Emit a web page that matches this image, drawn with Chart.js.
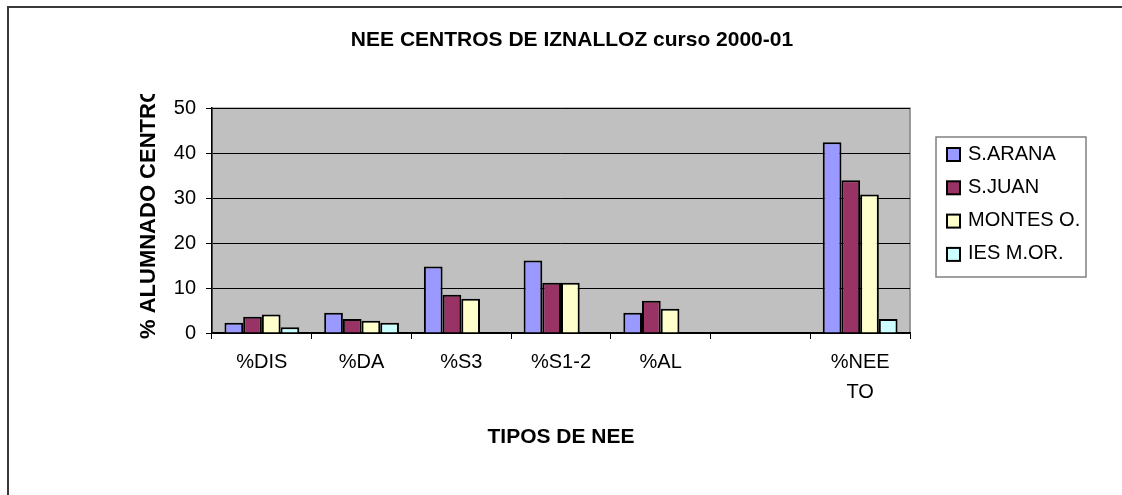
<!DOCTYPE html>
<html>
<head>
<meta charset="utf-8">
<script src="https://cdn.jsdelivr.net/npm/chart.js@4.4.0/dist/chart.umd.min.js"></script>
<style>
  html, body { margin: 0; padding: 0; background: #fff; overflow: hidden; }
  #wrap { width: 1122px; height: 495px; }
</style>
</head>
<body>
<div id="wrap"><canvas id="grafico" width="1122" height="495"></canvas></div>
<script>
// datos
var categorias = ["%DIS", "%DA", "%S3", "%S1-2", "%AL", "", ["%NEE", "TO"]];
var sArana   = [2.3, 4.5, 14.8, 16.1, 4.5, null, 42.4];
var sJuan    = [3.6, 3.1, 8.5, 11.2, 7.2, null, 34.0];
var montesO  = [4.1, 2.7, 7.6, 11.2, 5.4, null, 30.8];
var iesMor   = [1.3, 2.3, null, null, null, null, 3.1];
var marcasY  = [0, 10, 20, 30, 40, 50];

var fuente = "'Liberation Sans', Arial, sans-serif";

// fondo gris, marco exterior, titulo del eje Y y leyenda
var extras = {
    id: 'extras',
    beforeDraw: function (chart) {
        var ctx = chart.ctx, a = chart.chartArea;
        ctx.save();
        ctx.fillStyle = '#fff';
        ctx.fillRect(0, 0, chart.width, chart.height);
        ctx.strokeStyle = '#3a3a3a';
        ctx.lineWidth = 2;
        ctx.strokeRect(8, 7, 3000, 3000);
        ctx.fillStyle = '#c0c0c0';
        ctx.fillRect(a.left, a.top, a.right - a.left, a.bottom - a.top);
        ctx.strokeStyle = '#808080';
        ctx.lineWidth = 1.5;
        ctx.strokeRect(a.left, a.top, a.right - a.left, a.bottom - a.top);
        ctx.restore();
    },
    afterDraw: function (chart) {
        var ctx = chart.ctx, a = chart.chartArea;
        // titulo eje Y (recortado como en el original)
        ctx.save();
        ctx.beginPath();
        ctx.rect(0, 94, 210, 400);
        ctx.clip();
        ctx.translate(149, 339);
        ctx.rotate(-Math.PI / 2);
        ctx.font = "bold 22px " + fuente;
        ctx.fillStyle = '#000';
        ctx.textAlign = 'left';
        ctx.textBaseline = 'middle';
        ctx.fillText('% ALUMNADO CENTRO', 0, 0);
        ctx.restore();

        // leyenda
        var lx = a.right + 26, ly = 137, lw = 150, lh = 140;
        ctx.save();
        ctx.fillStyle = '#fff';
        ctx.fillRect(lx, ly, lw, lh);
        ctx.strokeStyle = '#808080';
        ctx.lineWidth = 1.5;
        ctx.strokeRect(lx, ly, lw, lh);
        ctx.font = "20px " + fuente;
        ctx.textBaseline = 'middle';
        chart.data.datasets.forEach(function (ds, i) {
            var cy = 154 + i * 33.3;
            ctx.fillStyle = ds.backgroundColor;
            ctx.fillRect(lx + 11, cy - 6, 13, 13);
            ctx.strokeStyle = '#000';
            ctx.lineWidth = 2;
            ctx.strokeRect(lx + 11, cy - 6, 13, 13);
            ctx.fillStyle = '#000';
            ctx.fillText(ds.label, lx + 32, cy);
        });
        ctx.restore();
    }
};

var datosBarras = {
    labels: categorias,
    datasets: [
        { label: "S.ARANA", data: sArana, backgroundColor: "#9999ff" },
        { label: "S.JUAN", data: sJuan, backgroundColor: "#993366" },
        { label: "MONTES O.", data: montesO, backgroundColor: "#ffffcc" },
        { label: "IES M.OR.", data: iesMor, backgroundColor: "#ccffff" }
    ]
};
datosBarras.datasets.forEach(function (ds) {
    ds.borderColor = "#000";
    ds.borderWidth = 2;
    ds.categoryPercentage = 0.75;
    ds.barPercentage = 1.0;
});

var opciones = {
    responsive: false,
    animation: false,
    layout: { padding: { top: 10, right: 0, bottom: 40, left: 22 } },
    plugins: {
        legend: { display: false },
        tooltip: { enabled: false },
        title: {
            display: true,
            text: "NEE CENTROS DE IZNALLOZ curso 2000-01",
            color: "#000",
            font: { family: fuente, size: 21, weight: 'bold', lineHeight: 1.2 },
            padding: { top: 18, bottom: 55 }
        }
    },
    scales: {
        x: {
            grid: { offset: true, drawOnChartArea: false, drawTicks: true, tickLength: 6, color: '#000' },
            border: { color: '#000', width: 1.5 },
            ticks: {
                color: '#000', maxRotation: 0, autoSkip: false, padding: 8,
                font: { family: fuente, size: 20, lineHeight: 1.5 }
            },
            title: {
                display: true, text: "TIPOS DE NEE", color: '#000',
                font: { family: fuente, size: 21, weight: 'bold', lineHeight: 1.2 },
                padding: { top: 0, bottom: 5 }
            },
            afterFit: function (scale) { scale.height = 122; }
        },
        y: {
            min: 0, max: 50,
            afterBuildTicks: function (scale) {
                scale.ticks = marcasY.map(function (v) { return { value: v }; });
            },
            grid: { color: '#000', lineWidth: 1, tickLength: 6, drawTicks: true },
            border: { color: '#000', width: 1.5 },
            ticks: {
                color: '#000', padding: 10,
                font: { family: fuente, size: 20 }
            },
            afterFit: function (scale) { scale.width = 190; }
        },
        // espacio reservado para la leyenda
        hueco: {
            type: 'linear', position: 'right', min: 0, max: 50,
            grid: { display: false },
            border: { display: false },
            ticks: { display: false },
            afterFit: function (scale) { scale.width = 212; }
        }
    }
};

var ctx = document.getElementById("grafico").getContext("2d");
new Chart(ctx, { type: 'bar', data: datosBarras, options: opciones, plugins: [extras] });
</script>
</body>
</html>
